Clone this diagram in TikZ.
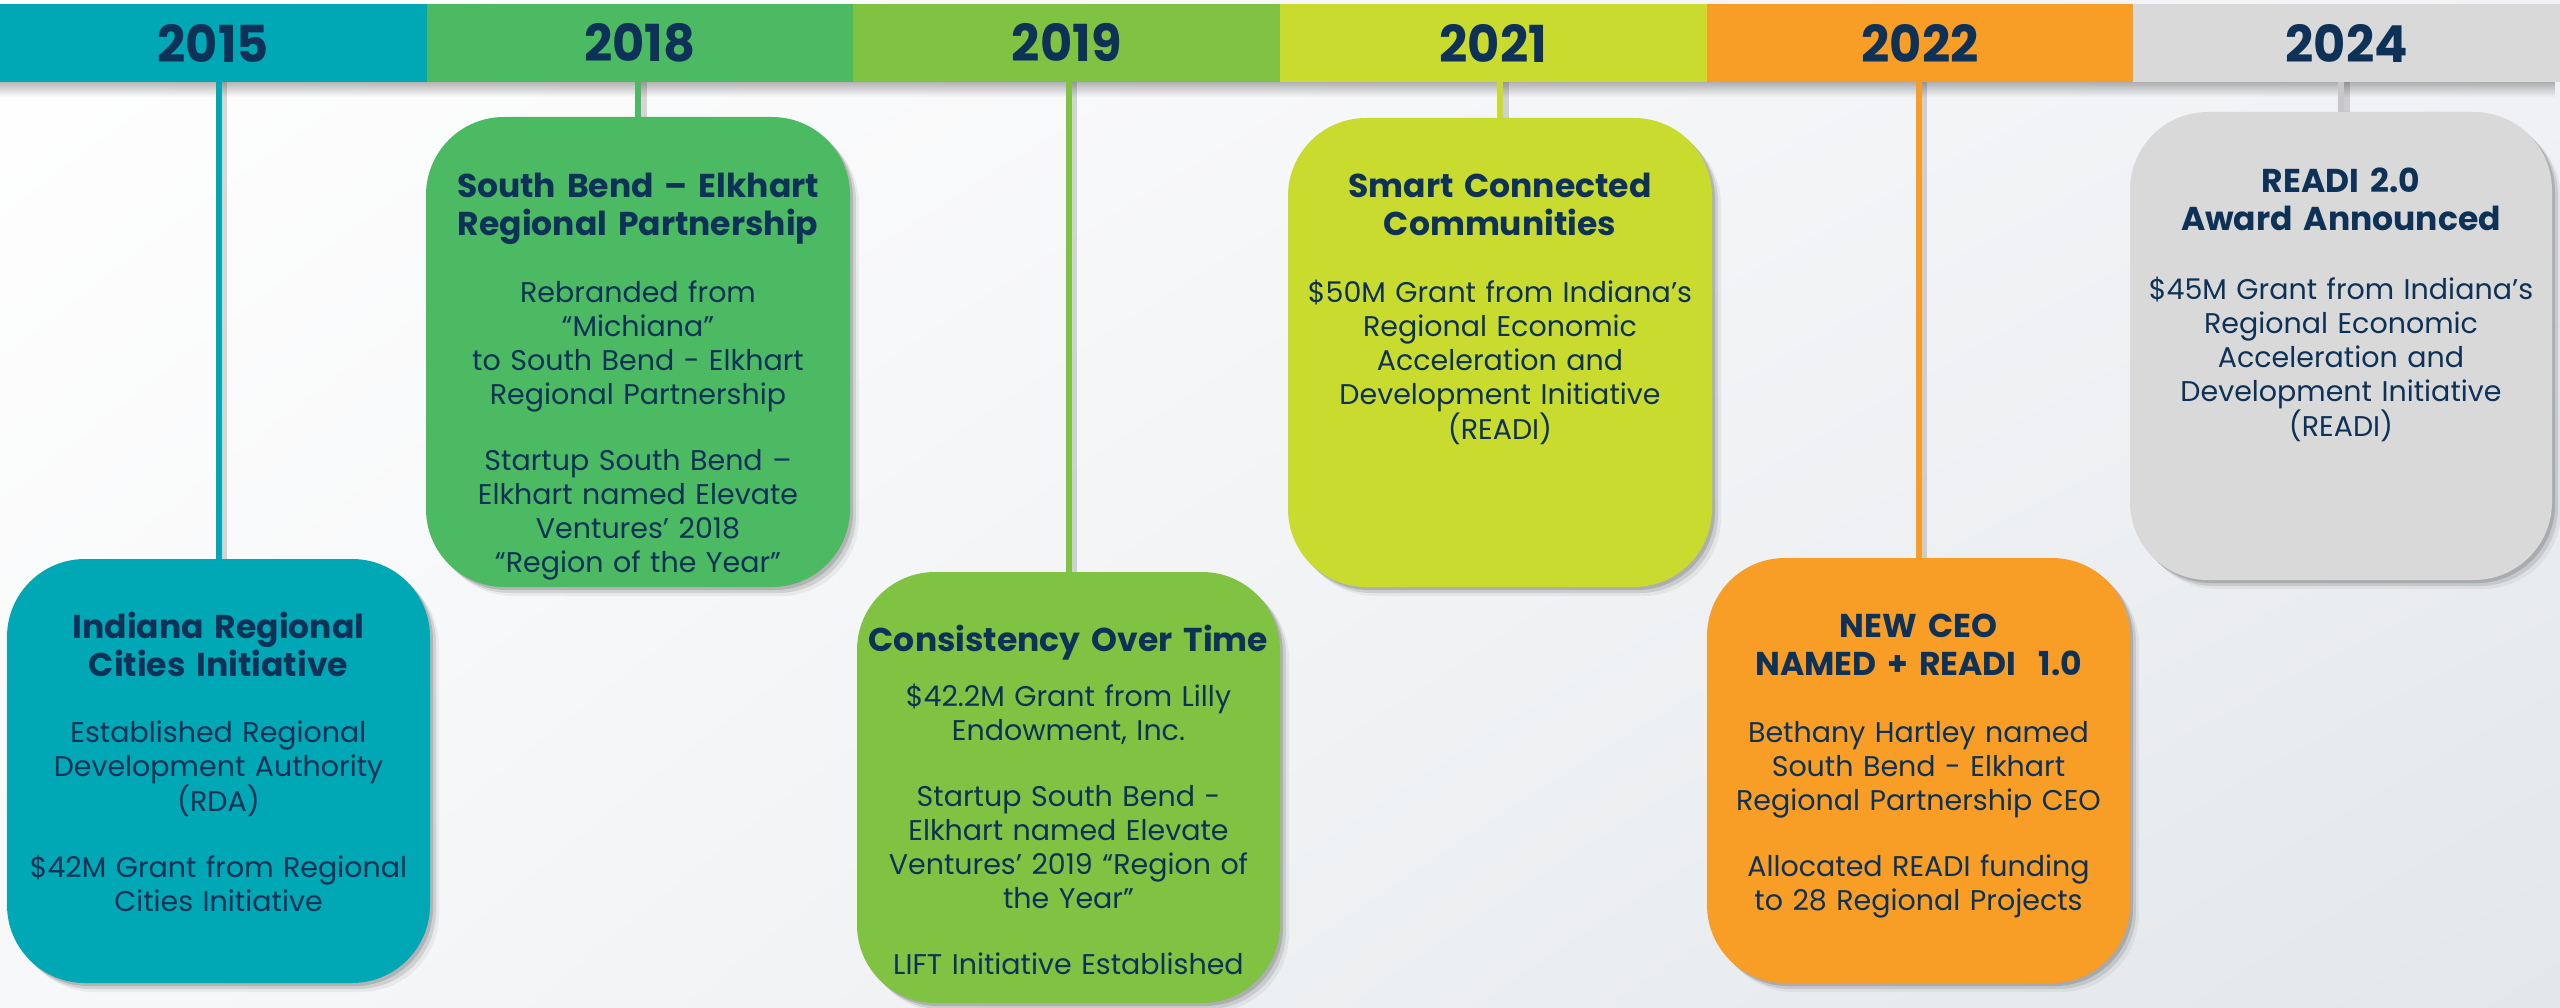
\documentclass[tikz,border=0pt]{standalone}
\usepackage{fontspec}
\setmainfont{Poppins}
\newfontfamily\yearfont{Poppins}[FakeStretch=0.97]
\usetikzlibrary{shadows,fadings,calc,shadings}
\definecolor{cA}{HTML}{00A7B5}
\definecolor{cB}{HTML}{4CB963}
\definecolor{cC}{HTML}{80C242}
\definecolor{cD}{HTML}{C8DB2E}
\definecolor{cE}{HTML}{F89D26}
\definecolor{cF}{HTML}{D9D9D9}
\definecolor{cFline}{HTML}{C7C7C9}
\definecolor{navy}{HTML}{0E3257}
\definecolor{bgR}{HTML}{F1F2F5}
\definecolor{bgBL}{HTML}{F7F8F9}
\definecolor{bgBR}{HTML}{E3E7EA}
\tikzset{
  yearbar/.style={rectangle, inner sep=0pt, minimum width=426.67pt, minimum height=78pt,
    fill=#1, text=navy, font=\yearfont\bfseries\fontsize{51}{51}\selectfont},
  card/.style={rectangle, rounded corners=78pt, inner sep=0pt, fill=#1,
    drop shadow={shadow xshift=3pt, shadow yshift=-3pt, opacity=0.14, fill=black},
    drop shadow={shadow xshift=6pt, shadow yshift=-6pt, opacity=0.10, fill=black},
    drop shadow={shadow xshift=9pt, shadow yshift=-9pt, opacity=0.05, fill=black}},
  ttl/.style={anchor=base, inner sep=0pt, text width=420pt, align=center, text=navy,
    font=\bfseries\fontsize{33}{38}\selectfont},
  bdy/.style={anchor=base, inner sep=0pt, text width=420pt, align=center, text=navy,
    font=\fontsize{28.5}{34}\selectfont},
  conn/.style={draw=#1, line width=6pt,
    preaction={draw=black, opacity=0.15, line width=7pt, transform canvas={xshift=5pt}}}
}
\begin{document}
\begin{tikzpicture}[x=1pt, y=-1pt]
\useasboundingbox (0,0) rectangle (2560,1008);
\shade[upper left=white, upper right=bgR, lower left=bgBL, lower right=bgBR] (0,0) rectangle (2560,1008);
% header shadow
\fill[black, opacity=0.28, path fading=south] (0,82) rectangle (2560,97);
% year bars
\node[yearbar=cA] (h1) at (213.33,43) {2015};
\node[yearbar=cB] (h2) at (640,43) {2018};
\node[yearbar=cC] (h3) at (1066.67,43) {2019};
\node[yearbar=cD] (h4) at (1493.33,43) {2021};
\node[yearbar=cE] (h5) at (1920,43) {2022};
\node[yearbar=cF] (h6) at (2346.67,43) {2024};
% cards
\node[card=cA, minimum width=423pt, minimum height=424pt] (b1) at (218.5,771) {};
\node[card=cB, minimum width=424pt, minimum height=470pt] (b2) at (638,352) {};
\node[card=cC, minimum width=423pt, minimum height=431pt] (b3) at (1068.5,787.5) {};
\node[card=cD, minimum width=424pt, minimum height=469pt] (b4) at (1500,352.5) {};
\node[card=cE, minimum width=423pt, minimum height=425pt] (b5) at (1918.5,770.5) {};
\node[card=cF, minimum width=422pt, minimum height=468pt] (b6) at (2341,346) {};
% connectors
\draw[conn=cA] (b1.north |- h1.south) -- (b1.north);
\draw[conn=cB] (b2.north |- h2.south) -- (b2.north);
\draw[conn=cC] (b3.north |- h3.south) -- (b3.north);
\draw[conn=cD] (b4.north |- h4.south) -- (b4.north);
\draw[conn=cE] (b5.north |- h5.south) -- (b5.north);
\draw[conn=cFline] (b6.north |- h6.south) -- (b6.north);
% texts
\node[ttl] (t1) at ($(b1.north)+(0,80)$) {Indiana Regional\\Cities Initiative};
\node[bdy] (d1) at ($(b1.north)+(0,184)$) {Established Regional\\Development Authority\\(RDA)\\[32pt]\$42M Grant from Regional\\Cities Initiative};
\node[ttl] (t2) at ($(b2.north)+(0,81)$) {South Bend – Elkhart\\Regional Partnership};
\node[bdy] (d2) at ($(b2.north)+(0,186)$) {Rebranded from\\“Michiana”\\to South Bend - Elkhart\\Regional Partnership\\[32pt]Startup South Bend –\\Elkhart named Elevate\\Ventures’ 2018\\“Region of the Year”};
\node[ttl] (t3) at ($(b3.north)+(0,80)$) {Consistency Over Time};
\node[bdy] (d3) at ($(b3.north)+(0,135)$) {\$42.2M Grant from Lilly\\Endowment, Inc.\\[32pt]Startup South Bend -\\Elkhart named Elevate\\Ventures’ 2019 “Region of\\the Year”\\[32pt]LIFT Initiative Established};
\node[ttl] (t4) at ($(b4.north)+(0,80)$) {Smart Connected\\Communities};
\node[bdy] (d4) at ($(b4.north)+(0,185)$) {\$50M Grant from Indiana’s\\Regional Economic\\Acceleration and\\Development Initiative\\(READI)};
\node[ttl] (t5) at ($(b5.north)+(0,80)$) {NEW CEO\\NAMED + READI~~1.0};
\node[bdy] (d5) at ($(b5.north)+(0,185)$) {Bethany Hartley named\\South Bend - Elkhart\\Regional Partnership CEO\\[32pt]Allocated READI funding\\to 28 Regional Projects};
\node[ttl] (t6) at ($(b6.north)+(0,81)$) {READI 2.0\\Award Announced};
\node[bdy] (d6) at ($(b6.north)+(0,188)$) {\$45M Grant from Indiana’s\\Regional Economic\\Acceleration and\\Development Initiative\\(READI)};
\end{tikzpicture}
\end{document}
